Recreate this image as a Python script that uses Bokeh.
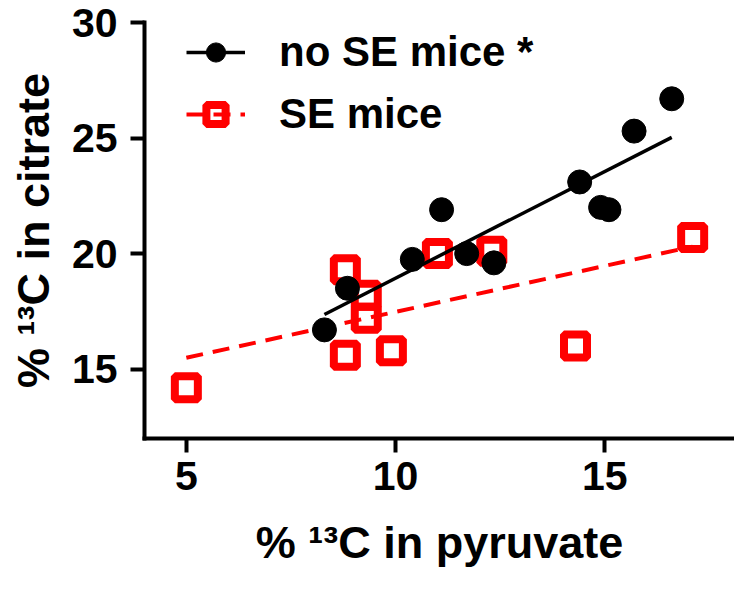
import numpy as np
from bokeh.plotting import figure
from bokeh.models import Range1d, Legend, LegendItem, FixedTicker
from bokeh.embed import file_html
from bokeh.resources import INLINE

# data
no_se_x = [8.3, 8.85, 10.4, 11.1, 11.7, 12.35, 14.4, 14.9, 15.1, 15.7, 16.6]
no_se_y = [16.7, 18.5, 19.75, 21.9, 20.0, 19.6, 23.1, 22.0, 21.9, 25.3, 26.7]
se_x = [5.0, 8.8, 9.3, 9.3, 8.8, 9.9, 11.0, 12.3, 14.3, 17.1]
se_y = [14.2, 19.3, 18.2, 17.2, 15.6, 15.8, 20.0, 20.1, 16.0, 20.7]
x_ticks = [5, 10, 15]
y_ticks = [15, 20, 25, 30]
x_label = "% \u00b9\u00b3C in pyruvate"
y_label = "% \u00b9\u00b3C in citrate"
labels = ["no SE mice *", "SE mice"]


def fit_line(xs, ys):
    k, b = np.polyfit(xs, ys, 1)
    x0, x1 = min(xs), max(xs)
    return [x0, x1], [k * x0 + b, k * x1 + b]


FONT = "Liberation Sans"

p = figure(width=734, height=585,
           x_range=Range1d(4, 18.1), y_range=Range1d(12, 30),
           output_backend="svg", toolbar_location=None,
           min_border_left=144, min_border_right=0,
           min_border_top=22, min_border_bottom=147)
p.xgrid.visible = False
p.ygrid.visible = False
p.outline_line_color = None
p.background_fill_color = "white"
p.border_fill_color = "white"

p.xaxis.ticker = FixedTicker(ticks=x_ticks)
p.yaxis.ticker = FixedTicker(ticks=y_ticks)
p.xaxis.axis_label = x_label
p.yaxis.axis_label = y_label

for ax in (p.xaxis[0], p.yaxis[0]):
    ax.axis_line_width = 4
    ax.axis_line_color = "black"
    ax.axis_line_cap = "square"
    ax.major_tick_line_width = 4
    ax.major_tick_line_color = "black"
    ax.major_tick_out = 14
    ax.major_tick_in = 0
    ax.minor_tick_line_color = None
    ax.major_label_text_font = FONT
    ax.major_label_text_font_style = "bold"
    ax.major_label_text_font_size = "41px"
    ax.major_label_text_color = "black"
    ax.axis_label_text_font = FONT
    ax.axis_label_text_font_style = "bold"
    ax.axis_label_text_font_size = "45px"
    ax.axis_label_text_color = "black"

p.xaxis.major_label_standoff = 9
p.xaxis.axis_label_standoff = 24
p.yaxis.major_label_standoff = 13
p.yaxis.axis_label_standoff = 10

# SE mice (red, dashed fit, open squares)
rx, ry = fit_line(se_x, se_y)
rl = p.line(rx, ry, line_color="#ff0000", line_width=4, line_dash="17 10")
rs = p.scatter(se_x, se_y, marker="square", size=23, line_color="#ff0000",
               line_width=8, fill_color=None)

# no SE mice (black, solid fit, filled circles)
bx, by = fit_line(no_se_x, no_se_y)
bl = p.line(bx, by, line_color="black", line_width=3.5)
bs = p.scatter(no_se_x, no_se_y, marker="circle", size=24, line_color="black",
               fill_color="black")

legend = Legend(items=[LegendItem(label=labels[0], renderers=[bl, bs]),
                       LegendItem(label=labels[1], renderers=[rl, rs])],
                location=(42, 300),
                glyph_width=59, glyph_height=48, label_height=48,
                label_standoff=34, spacing=14, padding=0, margin=0,
                border_line_color=None, background_fill_alpha=0,
                label_text_font=FONT, label_text_font_style="bold",
                label_text_font_size="42px", label_text_color="black",
                label_text_baseline="middle")
p.add_layout(legend)

open("out.html", "w").write(file_html(p, INLINE))
